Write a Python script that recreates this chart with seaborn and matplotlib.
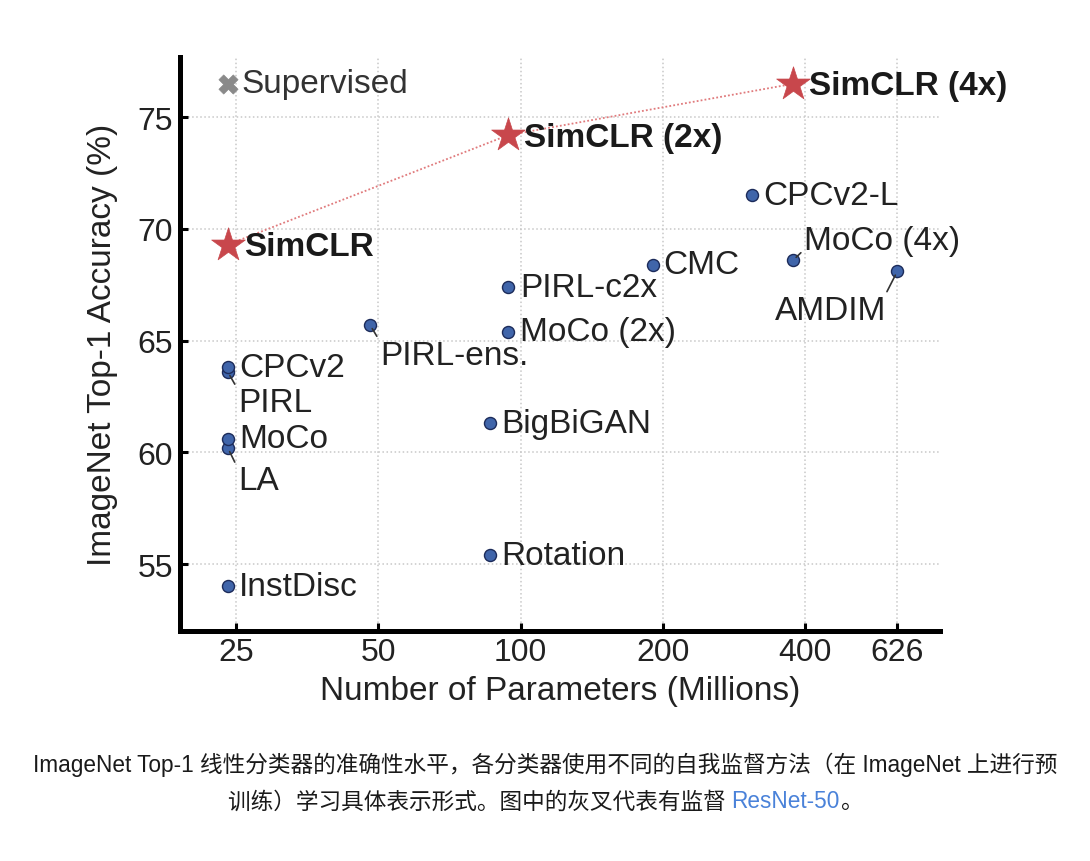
import matplotlib
matplotlib.use('Agg')
import matplotlib.pyplot as plt
from matplotlib.ticker import NullLocator
import seaborn as sns
import pandas as pd

# self-supervised methods (blue dots)
methods = ['InstDisc', 'Rotation', 'BigBiGAN', 'LA', 'MoCo', 'PIRL', 'CPCv2',
           'PIRL-ens.', 'MoCo (2x)', 'PIRL-c2x', 'CMC', 'CPCv2-L', 'MoCo (4x)', 'AMDIM']
params = [24, 86, 86, 24, 24, 24, 24, 48, 94, 94, 190, 309, 377, 626]
acc = [54.0, 55.4, 61.3, 60.2, 60.6, 63.6, 63.8, 65.7, 65.4, 67.4, 68.4, 71.5, 68.6, 68.1]

# SimCLR (red stars)
simclr_names = ['SimCLR', 'SimCLR (2x)', 'SimCLR (4x)']
simclr_params = [24, 94, 377]
simclr_acc = [69.3, 74.2, 76.5]

# supervised baseline (grey cross)
sup_name = 'Supervised'
sup_params = [24]
sup_acc = [76.5]

xticks = [25, 50, 100, 200, 400, 626]
yticks = [55, 60, 65, 70, 75]

caption_1 = 'ImageNet Top-1 线性分类器的准确性水平，各分类器使用不同的自我监督方法（在 ImageNet 上进行预'
caption_2 = ['训练）学习具体表示形式。图中的灰叉代表有监督 ', 'ResNet-50', '。']

sns.set_theme(style='white')
plt.rcParams['font.family'] = ['Liberation Sans', 'Noto Sans CJK SC', 'DejaVu Sans']

df = pd.DataFrame({'method': methods, 'params': params, 'acc': acc})
df_sim = pd.DataFrame({'method': simclr_names, 'params': simclr_params, 'acc': simclr_acc})

fig = plt.figure(figsize=(10.9, 8.62), dpi=100)
ax = fig.add_axes([0.165, 0.2668, 0.8624 - 0.165, 0.9327 - 0.2668])

sns.lineplot(data=df_sim, x='params', y='acc', ax=ax, sort=False, color='#e07a7c',
             linestyle=(0, (1, 1.2)), linewidth=1.3, zorder=2)
sns.scatterplot(data=df, x='params', y='acc', ax=ax, color='#4065aa', edgecolor='#1c2b5a',
                s=75, linewidth=1.0, zorder=4)
sns.scatterplot(data=df_sim, x='params', y='acc', ax=ax, marker='*', color='#c8474c',
                edgecolor='#c8474c', s=650, linewidth=0.5, zorder=4)
sns.scatterplot(x=sup_params, y=sup_acc, ax=ax, marker='X', color='#8a8a8a',
                edgecolor='#8a8a8a', s=190, linewidth=0.5, zorder=4)

ax.set_xscale('log')
ax.set_xlim(19, 771)
ax.set_ylim(52.0, 77.7)
ax.set_xticks(xticks)
ax.set_xticklabels([str(t) for t in xticks])
ax.xaxis.set_minor_locator(NullLocator())
ax.set_yticks(yticks)
ax.grid(True, linestyle=':', color='#c8c8c8', linewidth=1.1)
ax.set_axisbelow(True)

for s in ['top', 'right']:
    ax.spines[s].set_visible(False)
for s in ['left', 'bottom']:
    ax.spines[s].set_linewidth(3.6)
    ax.spines[s].set_color('black')
ax.tick_params(axis='both', direction='in', length=6, width=2.2, colors='black',
               labelsize=23, bottom=True, left=True)
ax.tick_params(axis='x', pad=4)
ax.tick_params(axis='y', pad=5)
for lab in ax.get_xticklabels() + ax.get_yticklabels():
    lab.set_color('#222222')

ax.set_xlabel('Number of Parameters (Millions)', fontsize=24, color='#222222', labelpad=6)
ax.set_ylabel('ImageNet Top-1 Accuracy (%)', fontsize=24, color='#222222', labelpad=14)

# label offsets in pixels: (dx, dy, ha, leader)
offsets = {
    'InstDisc': (11, 0, 'left', None),
    'Rotation': (11, 0, 'left', None),
    'BigBiGAN': (11, 0, 'left', None),
    'LA': (10, -33, 'left', (0.02, 0.85)),
    'MoCo': (11, 0, 'left', None),
    'PIRL': (10, -31, 'left', (0.02, 0.85)),
    'CPCv2': (11, 0, 'left', None),
    'PIRL-ens.': (10, -30, 'left', (0.01, 0.85)),
    'MoCo (2x)': (12, 0, 'left', None),
    'PIRL-c2x': (12, 0, 'left', None),
    'CMC': (11, 0, 'left', None),
    'CPCv2-L': (11, 0, 'left', None),
    'MoCo (4x)': (11, 20, 'left', (0.0, 0.2)),
    'AMDIM': (-11, -39, 'right', (0.97, 0.85)),
}
for name, x, y in zip(methods, params, acc):
    dx, dy, ha, rel = offsets[name]
    kw = {}
    if rel is not None:
        kw['arrowprops'] = dict(arrowstyle='-', color='#333333', lw=1.2, shrinkA=0,
                                shrinkB=3, relpos=rel)
    ax.annotate(name, (x, y), xytext=(dx, dy), textcoords='offset pixels', ha=ha,
                va='center', fontsize=24, color='#222222', zorder=5, **kw)

for name, x, y in zip(simclr_names, simclr_params, simclr_acc):
    ax.annotate(name, (x, y), xytext=(16, -2), textcoords='offset pixels', ha='left',
                va='center', fontsize=24, fontweight='bold', color='#1a1a1a', zorder=5,
                annotation_clip=False)
ax.annotate(sup_name, (sup_params[0], sup_acc[0]), xytext=(14, 0), textcoords='offset pixels',
            ha='left', va='center', fontsize=24, color='#333333', zorder=5)


# caption below the chart, centred, with a coloured link segment
def caption_line(parts, y):
    texts = [fig.text(0, y, s, color=c, fontsize=16.3, ha='left', va='center') for s, c in parts]
    fig.canvas.draw()
    r = fig.canvas.get_renderer()
    widths = [t.get_window_extent(r).width for t in texts]
    W = fig.bbox.width
    x = (W - sum(widths)) / 2
    for t, w in zip(texts, widths):
        t.set_x(x / W)
        x += w


caption_line([(caption_1, '#1a1a1a')], 1 - 765 / 862)
caption_line([(caption_2[0], '#1a1a1a'), (caption_2[1], '#4a82d9'), (caption_2[2], '#1a1a1a')],
             1 - 802 / 862)

fig.savefig('out.png', dpi=100, facecolor='white')
